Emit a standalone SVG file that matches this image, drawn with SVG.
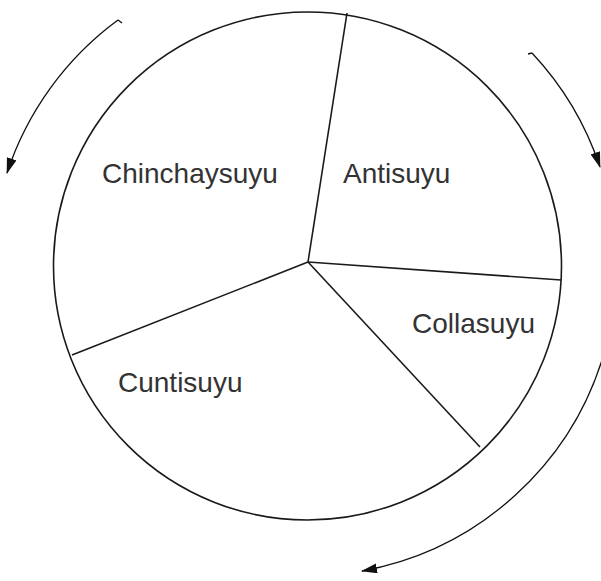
<svg xmlns="http://www.w3.org/2000/svg" width="601" height="581" viewBox="0 0 601 581">
<style>
.ln{fill:none;stroke:#1a1a1a;stroke-width:1.6}
.ar{fill:none;stroke:#111;stroke-width:1.3}
.lbl{font-family:"Liberation Sans",Arial,sans-serif;font-size:28px;fill:#333}
</style>
<defs>
<marker id="ah" viewBox="0 0 16 10" refX="15" refY="5" markerWidth="16" markerHeight="10" markerUnits="userSpaceOnUse" orient="auto">
<path d="M0,0 L16,5 L0,10 Z" fill="#111"/>
</marker>
</defs>
<rect width="601" height="581" fill="#fff"/>
<g id="circle">
<circle cx="307.5" cy="266" r="254" class="ln" stroke-width="2"/>
</g>
<g id="chinchaysuyu"><text class="lbl" x="102" y="183">Chinchaysuyu</text></g>
<g id="antisuyu"><text class="lbl" x="343" y="183">Antisuyu</text></g>
<g id="collasuyu"><text class="lbl" x="412" y="333">Collasuyu</text></g>
<g id="cuntisuyu"><text class="lbl" x="118" y="392">Cuntisuyu</text></g>
<g id="connectors">
<path class="ln" d="M308,262 L347,13"/>
<path class="ln" d="M308,262 L561,280"/>
<path class="ln" d="M308,262 L480,447"/>
<path class="ln" d="M308,262 L72,355"/>
<path class="ar" d="M118,20 A310,310 0 0 0 7,173" marker-end="url(#ah)"/>
<path class="ar" d="M118,20 L122,23"/>
<path class="ar" d="M532,53 A310,310 0 0 1 600,167" marker-end="url(#ah)"/>
<path class="ar" d="M532,53 L528,54"/>
<path class="ar" d="M605,350 A310,310 0 0 1 362,571" marker-end="url(#ah)"/>
</g>
</svg>
